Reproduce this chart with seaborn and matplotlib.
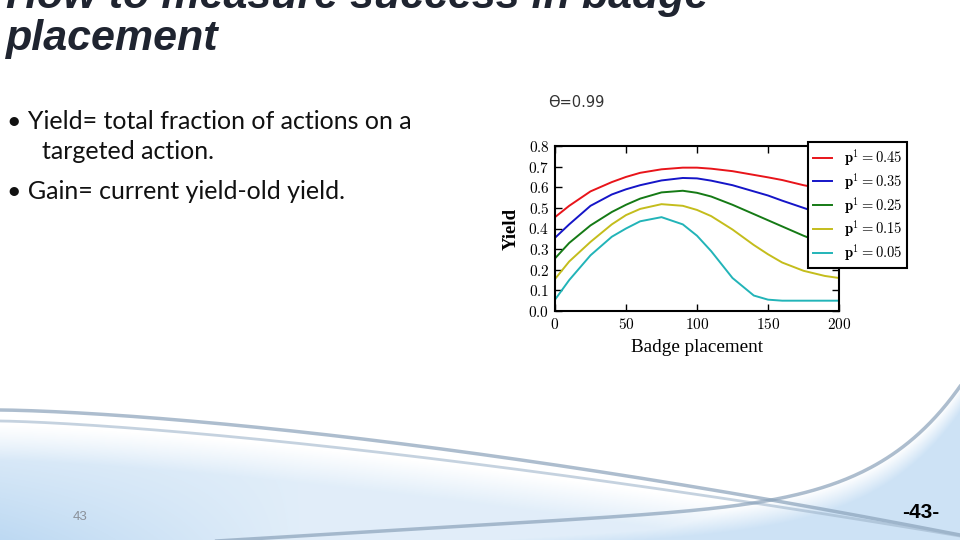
import numpy as np
import pandas as pd
import matplotlib.pyplot as plt
import seaborn as sns

# Values
placement = [0, 10, 25, 40, 50, 60, 75, 90, 100, 110, 125, 140, 150, 160, 175, 190, 200]
yield_p45 = [0.455, 0.51, 0.58, 0.625, 0.65, 0.67, 0.687, 0.695, 0.695, 0.69, 0.678, 0.66, 0.648, 0.635, 0.61, 0.59, 0.575]
yield_p35 = [0.355, 0.42, 0.51, 0.565, 0.59, 0.61, 0.633, 0.645, 0.643, 0.632, 0.61, 0.58, 0.56, 0.535, 0.50, 0.465, 0.45]
yield_p25 = [0.255, 0.33, 0.415, 0.48, 0.515, 0.545, 0.575, 0.583, 0.573, 0.555, 0.515, 0.47, 0.44, 0.41, 0.365, 0.325, 0.30]
yield_p15 = [0.155, 0.24, 0.335, 0.42, 0.465, 0.495, 0.518, 0.51, 0.49, 0.46, 0.395, 0.32, 0.275, 0.235, 0.195, 0.17, 0.16]
yield_p05 = [0.055, 0.15, 0.27, 0.36, 0.40, 0.435, 0.455, 0.42, 0.365, 0.29, 0.16, 0.075, 0.055, 0.05, 0.05, 0.05, 0.05]

labels = [r'$\mathbf{p}^1 = 0.45$', r'$\mathbf{p}^1 = 0.35$', r'$\mathbf{p}^1 = 0.25$',
          r'$\mathbf{p}^1 = 0.15$', r'$\mathbf{p}^1 = 0.05$']
colors = ['#e8141a', '#1515c8', '#157a15', '#c4bd1c', '#22b4b8']
xticks = [0, 50, 100, 150, 200]
yticks = [0.0, 0.1, 0.2, 0.3, 0.4, 0.5, 0.6, 0.7, 0.8]

series = [yield_p45, yield_p35, yield_p25, yield_p15, yield_p05]
df = pd.concat([pd.DataFrame({'x': placement, 'y': s, 'p': lab}) for s, lab in zip(series, labels)])

plt.rcParams['mathtext.fontset'] = 'cm'

fig = plt.figure(figsize=(9.6, 5.4), dpi=100)

# slide background swoosh (decoration only)
bg = fig.add_axes([0, 0, 1, 1], zorder=-5)
H, W = 540, 960
yy, xx = np.mgrid[0:H, 0:W]


def rise_curve(x):
    u = np.clip((x - 150) / 810.0, 0, None)
    return 545 - 0.06 * (x - 150) - 110 * u ** 10


down = 425 + 115 * (xx / 960.0) ** 1.4
a1 = np.clip((yy - down) / 35.0, 0, 1) * (0.45 + 0.55 * np.clip((300 - xx) / 300.0, 0, 1) * np.clip((yy - 430) / 110.0, 0, 1))
rise = np.where(xx < 150, 600, rise_curve(xx))
a2 = np.clip((yy - rise) / 25.0, 0, 1) * 0.75
alpha = np.clip(np.maximum(a1, a2), 0, 1)
base = np.array([0.74, 0.85, 0.95])
img = np.ones((H, W, 3)) * (1 - alpha[..., None]) + base * alpha[..., None]
bg.imshow(img, extent=[0, W, H, 0], aspect='auto')
t = np.linspace(0, 960, 300)
bg.plot(t, 410 + 125 * (t / 960.0) ** 1.5, color='#8aa2ba', lw=2.5, alpha=0.7)
bg.plot(t, 421 + 115 * (t / 960.0) ** 1.4, color='#9fb5cb', lw=2, alpha=0.6)
tr = np.linspace(150, 960, 300)
bg.plot(tr, rise_curve(tr), color='#8aa2ba', lw=2.5, alpha=0.7)
bg.set_xlim(0, W)
bg.set_ylim(H, 0)
bg.axis('off')

# slide text
title_kw = dict(transform=None, fontsize=31, fontweight='bold', fontstyle='italic',
                family='Liberation Sans', color='#1f2430')
fig.text(6, 540 - 8, 'How to measure success in badge', **title_kw)
fig.text(6, 540 - 50, 'placement', **title_kw)
body_kw = dict(transform=None, fontsize=18, family='Lato', color='#111111')
fig.text(7, 540 - 129, '• Yield= total fraction of actions on a', **body_kw)
fig.text(42, 540 - 159, 'targeted action.', **body_kw)
fig.text(7, 540 - 199, '• Gain= current yield-old yield.', **body_kw)
fig.text(73, 540 - 520, '43', transform=None, fontsize=9.5, family='Liberation Sans', color='#8a9099')
fig.text(902, 540 - 518, '-43-', transform=None, fontsize=15, fontweight='bold',
         family='Liberation Sans', color='#000000')

fig.text(548, 540 - 107, 'ϴ=0.99', transform=None, fontsize=10.5, family='DejaVu Sans', color='#333333')

# chart
ax = fig.add_axes([555 / 960, 1 - 311 / 540, 284 / 960, 165 / 540])
sns.lineplot(data=df, x='x', y='y', hue='p', palette=colors, ax=ax, lw=1.4, legend=True)
ax.set_xlim(0, 200)
ax.set_ylim(0, 0.8)
ax.set_xticks(xticks)
ax.set_xticklabels(['$%d$' % v for v in xticks])
ax.set_yticks(yticks)
ax.set_yticklabels(['$%.1f$' % v for v in yticks])
ax.tick_params(direction='in', top=True, right=True, length=5, width=1, labelsize=11, pad=4)
for s in ax.spines.values():
    s.set_linewidth(1.5)
ax.set_xlabel('Badge placement', family='Liberation Serif', fontsize=13.8, labelpad=5)
ax.set_ylabel('Yield', family='Liberation Serif', fontsize=13.5, fontweight='bold', labelpad=6)
ax.set_facecolor('white')

leg = ax.legend(loc='upper left', bbox_to_anchor=(808 / 960, 1 - 142 / 540),
                bbox_transform=fig.transFigure, fontsize=10.5, frameon=True, fancybox=False,
                handlelength=1.3, borderpad=0.35, labelspacing=0.2, handletextpad=0.8, borderaxespad=0)
leg.get_frame().set_edgecolor('black')
leg.get_frame().set_linewidth(1.5)
leg.get_frame().set_alpha(1)

fig.savefig('out.png', dpi=100)
